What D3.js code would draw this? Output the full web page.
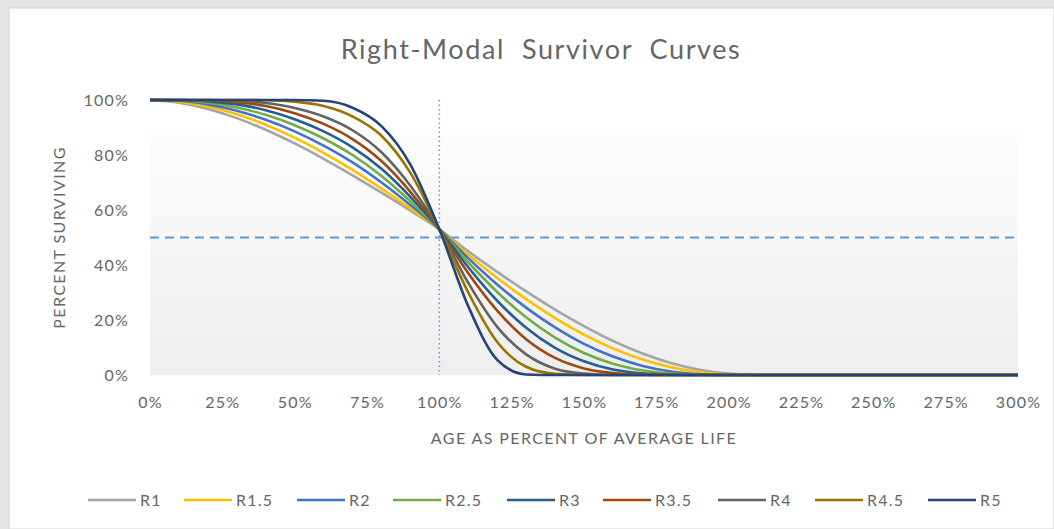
<!DOCTYPE html>
<html>
<head>
<meta charset="utf-8">
<script src="https://cdn.jsdelivr.net/npm/d3@7"></script>
<style>
  html, body { margin: 0; padding: 0; background: #e6e6e6; }
  svg { display: block; }
  text { font-family: Lato, "Open Sans", sans-serif; fill: #666666; }
</style>
</head>
<body>
<svg id="chart" width="1054" height="529"></svg>
<script>
// Age as percent of average life (x positions of the sampled points)
const ages = [0, 10, 20, 30, 40, 50, 60, 70, 80, 90, 100, 110, 120, 130, 140, 150, 160, 170, 180, 190, 200, 210, 250, 300];

// Percent surviving for each Iowa right-modal curve
const r1   = [100, 99.0, 96.7, 93.4, 89.2, 84.2, 78.6, 72.6, 66.3, 59.8, 53, 45.0, 37.5, 30.4, 23.8, 17.8, 12.4, 7.9, 4.4, 1.9, 0.5, 0, 0, 0];
const r1_5 = [100, 99.4, 97.6, 94.8, 91.0, 86.3, 80.8, 74.6, 67.8, 60.6, 53, 43.8, 35.3, 27.6, 20.7, 14.7, 9.7, 5.7, 2.8, 1.0, 0.2, 0, 0, 0];
const r2   = [100, 99.7, 98.4, 96.1, 92.8, 88.6, 83.4, 77.3, 70.0, 61.8, 53, 42.5, 32.9, 24.5, 17.3, 11.3, 6.7, 3.4, 1.3, 0.3, 0, 0, 0, 0];
const r2_5 = [100, 99.9, 99.0, 97.3, 94.6, 90.8, 86.0, 80.0, 72.4, 63.2, 53, 41.0, 30.2, 21.0, 13.6, 8.0, 4.1, 1.7, 0.5, 0.1, 0, 0, 0, 0];
const r3   = [100, 100, 99.5, 98.4, 96.3, 93.0, 88.6, 82.8, 75.0, 64.8, 53, 39.2, 27.0, 17.2, 9.9, 5.0, 2.0, 0.6, 0.1, 0, 0, 0, 0, 0];
const r3_5 = [100, 100, 99.8, 99.2, 97.8, 95.2, 91.3, 85.8, 77.8, 66.6, 53, 37.0, 23.4, 13.0, 6.2, 2.4, 0.7, 0.1, 0, 0, 0, 0, 0, 0];
const r4   = [100, 100, 100, 99.7, 98.9, 97.1, 94.0, 89.0, 81.0, 68.8, 53, 33.5, 17.5, 7.5, 2.3, 0.5, 0, 0, 0, 0, 0, 0, 0, 0];
const r4_5 = [100, 100, 100, 100, 99.9, 99.4, 97.8, 94.0, 87.0, 73.5, 53, 30.0, 12.0, 3.0, 0.4, 0, 0, 0, 0, 0, 0, 0, 0, 0];
const r5   = [100, 100, 100, 100, 100, 100, 99.7, 97.2, 90.5, 76.5, 53, 25.0, 5.5, 0.2, 0, 0, 0, 0, 0, 0, 0, 0, 0, 0];

const seriesNames  = ["R1", "R1.5", "R2", "R2.5", "R3", "R3.5", "R4", "R4.5", "R5"];
const seriesValues = [r1, r1_5, r2, r2_5, r3, r3_5, r4, r4_5, r5];
const seriesColors = ["#a5a5a5", "#ffc000", "#4472c4", "#70ad47", "#255e91", "#9e480e", "#636363", "#997300", "#264478"];

const xTicks = [0, 25, 50, 75, 100, 125, 150, 175, 200, 225, 250, 275, 300];
const yTicks = [0, 20, 40, 60, 80, 100];

const titleText = "Right-Modal  Survivor  Curves";
const xTitle = "AGE AS PERCENT OF AVERAGE LIFE";
const yTitle = "PERCENT SURVIVING";

const svg = d3.select("#chart");

// chart panel
svg.append("rect").attr("x", 9).attr("y", 8).attr("width", 1045).attr("height", 521)
  .attr("fill", "#ffffff").attr("stroke", "#d4d4d4").attr("stroke-width", 1);

const plot = { left: 150, right: 1018, top: 100, bottom: 375 };
const x = d3.scaleLinear().domain([0, 300]).range([plot.left, plot.right]);
const y = d3.scaleLinear().domain([0, 100]).range([plot.bottom, plot.top]);

// plot-area gradient fill
const defs = svg.append("defs");
const grad = defs.append("linearGradient").attr("id", "plotFill")
  .attr("x1", 0).attr("y1", 0).attr("x2", 0).attr("y2", 1);
grad.append("stop").attr("offset", "0%").attr("stop-color", "#fdfdfd");
grad.append("stop").attr("offset", "100%").attr("stop-color", "#eeeeee");
svg.append("rect")
  .attr("x", x(0)).attr("y", y(89))
  .attr("width", x(300) - x(0)).attr("height", y(0) - y(89))
  .attr("fill", "url(#plotFill)");

// title
svg.append("text").attr("x", 541).attr("y", 59).attr("text-anchor", "middle")
  .attr("font-size", 27).attr("letter-spacing", 1.6).style("white-space", "pre").text(titleText);

// y axis labels
const yAxis = d3.axisLeft(y).tickValues(yTicks).tickFormat(d => d + "%").tickSize(0).tickPadding(21);
const gy = svg.append("g").attr("transform", `translate(${plot.left},0)`).call(yAxis);
gy.select(".domain").remove();
gy.selectAll("text").attr("font-size", 16).attr("letter-spacing", 1.2)
  .attr("font-family", null).attr("fill", "#707070");

// x axis labels
const xAxis = d3.axisBottom(x).tickValues(xTicks).tickFormat(d => d + "%").tickSize(0).tickPadding(22);
const gx = svg.append("g").attr("transform", `translate(0,${plot.bottom})`).call(xAxis);
gx.select(".domain").remove();
gx.selectAll("text").attr("font-size", 16).attr("letter-spacing", 1.2)
  .attr("font-family", null).attr("fill", "#707070");

// axis titles
svg.append("text").attr("x", 584).attr("y", 444).attr("text-anchor", "middle")
  .attr("font-size", 16).attr("letter-spacing", 1.4).text(xTitle);
svg.append("text").attr("transform", `translate(65,${y(50)}) rotate(-90)`)
  .attr("text-anchor", "middle").attr("font-size", 16).attr("letter-spacing", 1.4).text(yTitle);

// reference lines: 50% surviving and 100% of average life
svg.append("line").attr("x1", x(0)).attr("x2", x(300)).attr("y1", y(50)).attr("y2", y(50))
  .attr("stroke", "#5b9bd5").attr("stroke-width", 2).attr("stroke-dasharray", "9,6");
svg.append("line").attr("x1", x(100)).attr("x2", x(100)).attr("y1", y(100)).attr("y2", y(0))
  .attr("stroke", "#5b9bd5").attr("stroke-width", 1.5).attr("stroke-dasharray", "1.5,3");

// survivor curves
const line = d3.line().x(d => x(d[0])).y(d => y(d[1])).curve(d3.curveMonotoneX);
seriesValues.forEach((vals, i) => {
  svg.append("path")
    .datum(ages.map((a, j) => [a, vals[j]]))
    .attr("d", line)
    .attr("fill", "none")
    .attr("stroke", seriesColors[i])
    .attr("stroke-width", 2.6)
    .attr("stroke-linejoin", "round");
});

// legend
const legendX = [88, 184, 297, 393, 507, 603, 718, 815, 928];
const lg = svg.append("g");
seriesNames.forEach((name, i) => {
  const g = lg.append("g").attr("transform", `translate(${legendX[i]},500)`);
  g.append("line").attr("x1", 0).attr("x2", 48).attr("y1", 0).attr("y2", 0)
    .attr("stroke", seriesColors[i]).attr("stroke-width", 2.6);
  g.append("text").attr("x", 52).attr("y", 5.5).attr("font-size", 16)
    .attr("letter-spacing", 1.2).text(name);
});
</script>
</body>
</html>
